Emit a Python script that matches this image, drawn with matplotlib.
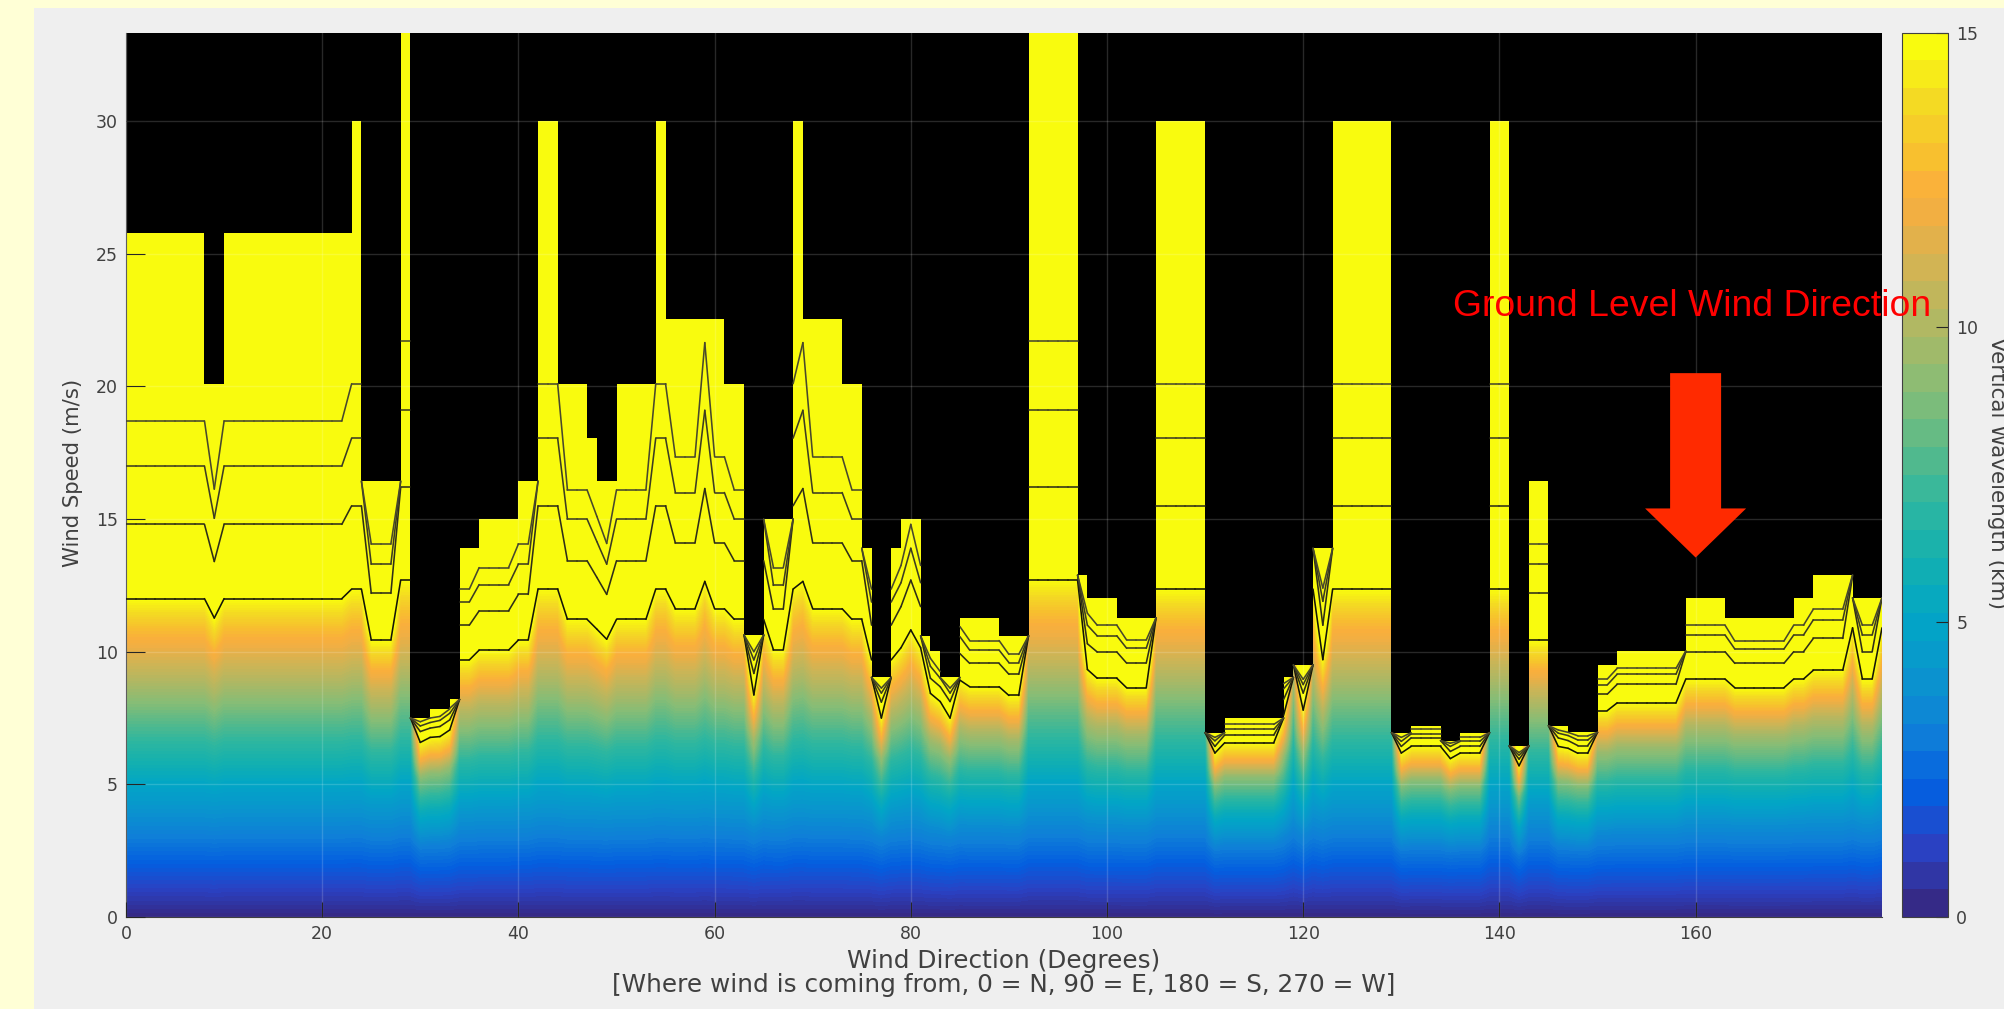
import numpy as np
import matplotlib
matplotlib.use("Agg")
import matplotlib.pyplot as plt
from matplotlib.cm import ScalarMappable
from matplotlib.colors import LinearSegmentedColormap, Normalize
from matplotlib.patches import Rectangle

# wind direction (deg), one value per degree
directions = list(range(180))

# ceiling of the valid region (m/s) for each 1 degree cell, 40 = above the axes
ceiling = [
    25.8, 25.8, 25.8, 25.8, 25.8, 25.8, 25.8, 25.8, 20.1, 20.1,
    25.8, 25.8, 25.8, 25.8, 25.8, 25.8, 25.8, 25.8, 25.8, 25.8,
    25.8, 25.8, 25.8, 30, 16.43, 16.43, 16.43, 16.43, 40, 7.5,
    7.5, 7.84, 7.84, 8.2, 13.9, 13.9, 15, 15, 15, 15,
    16.43, 16.43, 30, 30, 20.1, 20.1, 20.1, 18.06, 16.43, 16.43,
    20.1, 20.1, 20.1, 20.1, 30, 22.55, 22.55, 22.55, 22.55, 22.55,
    22.55, 20.1, 20.1, 10.63, 10.63, 15, 15, 15, 30, 22.55,
    22.55, 22.55, 22.55, 20.1, 20.1, 13.9, 9.03, 9.03, 13.9, 15,
    15, 10.6, 10.03, 9.03, 9.03, 11.28, 11.28, 11.28, 11.28, 10.6,
    10.6, 10.6, 40, 40, 40, 40, 40, 12.89, 12.03, 12.03,
    12.03, 11.28, 11.28, 11.28, 11.28, 30, 30, 30, 30, 30,
    6.95, 6.95, 7.5, 7.5, 7.5, 7.5, 7.5, 7.5, 9.03, 9.5,
    9.5, 13.9, 13.9, 30, 30, 30, 30, 30, 30, 6.95,
    6.95, 7.21, 7.21, 7.21, 6.65, 6.65, 6.95, 6.95, 6.95, 30,
    30, 6.45, 6.45, 16.43, 16.43, 7.21, 7.21, 6.96, 6.96, 6.96,
    9.5, 9.5, 10.03, 10.03, 10.03, 10.03, 10.03, 10.03, 10.03, 12.03,
    12.03, 12.03, 12.03, 11.28, 11.28, 11.28, 11.28, 11.28, 11.28, 11.28,
    12.03, 12.03, 12.89, 12.89, 12.89, 12.89, 12.03, 12.03, 12.03,
]

# contour lines, wind speed (m/s) at each degree. line1 is the 15 km one
line1 = [
    12, 12, 12, 12, 12, 12, 12, 12, 12, 11.27,
    12, 12, 12, 12, 12, 12, 12, 12, 12, 12,
    12, 12, 12, 12.36, 12.36, 10.44, 10.44, 10.44, 12.7, 12.7,
    6.58, 6.77, 6.8, 7.05, 9.69, 9.69, 10.06, 10.06, 10.06, 10.06,
    10.44, 10.44, 12.36, 12.36, 12.36, 11.22, 11.22, 11.22, 10.85, 10.47,
    11.22, 11.22, 11.22, 11.22, 12.36, 12.36, 11.62, 11.62, 11.62, 12.65,
    11.62, 11.62, 11.22, 11.22, 8.37, 11.22, 10.07, 10.07, 12.36, 12.65,
    11.62, 11.62, 11.62, 11.62, 11.22, 11.22, 9.69, 7.5, 9.69, 10.15,
    10.82, 10.15, 8.43, 8.12, 7.5, 8.93, 8.68, 8.68, 8.68, 8.68,
    8.35, 8.35, 12.7, 12.7, 12.7, 12.7, 12.7, 12.7, 9.33, 9.0,
    9.0, 9.0, 8.64, 8.64, 8.64, 12.36, 12.36, 12.36, 12.36, 12.36,
    12.36, 6.18, 6.57, 6.57, 6.57, 6.57, 6.57, 6.57, 7.6, 12.36,
    7.8, 12.36, 9.7, 12.36, 12.36, 12.36, 12.36, 12.36, 12.36, 12.36,
    6.18, 6.43, 6.43, 6.43, 6.43, 5.97, 6.18, 6.18, 6.18, 12.36,
    12.36, 12.36, 5.7, 10.44, 10.44, 10.44, 6.43, 6.36, 6.17, 6.17,
    7.78, 7.78, 8.07, 8.07, 8.07, 8.07, 8.07, 8.07, 8.07, 8.97,
    8.97, 8.97, 8.97, 8.97, 8.64, 8.64, 8.64, 8.64, 8.64, 8.64,
    8.97, 8.97, 9.3, 9.3, 9.3, 9.3, 10.9, 8.97, 8.97, 10.9,
]
line2 = [
    14.8, 14.8, 14.8, 14.8, 14.8, 14.8, 14.8, 14.8, 14.8, 13.4,
    14.8, 14.8, 14.8, 14.8, 14.8, 14.8, 14.8, 14.8, 14.8, 14.8,
    14.8, 14.8, 14.8, 15.5, 15.5, 12.2, 12.2, 12.2, 16.2, 16.2,
    6.99, 7.12, 7.18, 7.43, 11.0, 11.0, 11.54, 11.54, 11.54, 11.54,
    12.16, 12.16, 15.5, 15.5, 15.5, 13.43, 13.43, 13.43, 12.8, 12.16,
    13.43, 13.43, 13.43, 13.43, 15.5, 15.5, 14.1, 14.1, 14.1, 16.15,
    14.1, 14.1, 13.43, 13.43, 9.18, 13.43, 11.6, 11.6, 15.5, 16.15,
    14.1, 14.1, 14.1, 14.1, 13.43, 13.43, 11.0, 8.1, 11.0, 11.7,
    12.7, 11.7, 9.0, 8.68, 8.12, 9.93, 9.56, 9.56, 9.56, 9.56,
    9.15, 9.15, 16.2, 16.2, 16.2, 16.2, 16.2, 16.2, 10.3, 9.99,
    9.99, 9.99, 9.57, 9.57, 9.57, 15.5, 15.5, 15.5, 15.5, 15.5,
    15.5, 6.43, 6.86, 6.86, 6.86, 6.86, 6.86, 6.86, 8.2, 15.5,
    8.44, 15.5, 11.0, 15.5, 15.5, 15.5, 15.5, 15.5, 15.5, 15.5,
    6.43, 6.75, 6.75, 6.75, 6.75, 6.24, 6.43, 6.43, 6.43, 15.5,
    15.5, 15.5, 5.95, 12.2, 12.2, 12.2, 6.75, 6.65, 6.46, 6.46,
    8.4, 8.4, 8.77, 8.77, 8.77, 8.77, 8.77, 8.77, 8.77, 10.0,
    10.0, 10.0, 10.0, 10.0, 9.56, 9.56, 9.56, 9.56, 9.56, 9.56,
    10.0, 10.0, 10.5, 10.5, 10.5, 10.5, 12.85, 10.0, 10.0, 12.85,
]
line3 = [
    17, 17, 17, 17, 17, 17, 17, 17, 17, 15.03,
    17, 17, 17, 17, 17, 17, 17, 17, 17, 17,
    17, 17, 17, 18.05, 18.05, 13.3, 13.3, 13.3, 19.1, 19.1,
    7.2, 7.33, 7.41, 7.68, 11.87, 11.87, 12.53, 12.53, 12.53, 12.53,
    13.3, 13.3, 18.05, 18.05, 18.05, 15, 15, 15, 14.15, 13.3,
    15, 15, 15, 15, 18.05, 18.05, 16, 16, 16, 19.1,
    16, 16, 15, 15, 9.69, 15, 12.5, 12.5, 18.05, 19.1,
    16, 16, 16, 16, 15, 15, 11.87, 8.44, 11.87, 12.6,
    13.9, 12.6, 9.45, 9.0, 8.44, 10.57, 10.06, 10.06, 10.06, 10.06,
    9.59, 9.59, 19.1, 19.1, 19.1, 19.1, 19.1, 19.1, 11.0, 10.6,
    10.6, 10.6, 10.13, 10.13, 10.13, 18.05, 18.05, 18.05, 18.05, 18.05,
    18.05, 6.64, 7.07, 7.07, 7.07, 7.07, 7.07, 7.07, 8.6, 18.05,
    8.76, 18.05, 11.9, 18.05, 18.05, 18.05, 18.05, 18.05, 18.05, 18.05,
    6.62, 6.9, 6.9, 6.9, 6.9, 6.43, 6.62, 6.62, 6.62, 18.05,
    18.05, 18.05, 6.1, 13.3, 13.3, 13.3, 6.93, 6.84, 6.67, 6.67,
    8.75, 8.75, 9.15, 9.15, 9.15, 9.15, 9.15, 9.15, 9.15, 10.63,
    10.63, 10.63, 10.63, 10.63, 10.1, 10.1, 10.1, 10.1, 10.1, 10.1,
    10.63, 10.63, 11.2, 11.2, 11.2, 11.2, 14, 10.63, 10.63, 14,
]
line4 = [
    18.7, 18.7, 18.7, 18.7, 18.7, 18.7, 18.7, 18.7, 18.7, 16.13,
    18.7, 18.7, 18.7, 18.7, 18.7, 18.7, 18.7, 18.7, 18.7, 18.7,
    18.7, 18.7, 18.7, 20.1, 20.1, 14.06, 14.06, 14.06, 21.7, 21.7,
    7.36, 7.5, 7.56, 7.87, 12.36, 12.36, 13.17, 13.17, 13.17, 13.17,
    14.06, 14.06, 20.1, 20.1, 20.1, 16.1, 16.1, 16.1, 15.1, 14.08,
    16.1, 16.1, 16.1, 16.1, 20.1, 20.1, 17.35, 17.35, 17.35, 21.65,
    17.35, 17.35, 16.1, 16.1, 10.0, 16.1, 13.17, 13.17, 20.1, 21.65,
    17.35, 17.35, 17.35, 17.35, 16.1, 16.1, 12.36, 8.63, 12.36, 13.25,
    14.8, 13.25, 9.75, 9.25, 8.63, 10.95, 10.42, 10.42, 10.42, 10.42,
    9.9, 9.9, 21.7, 21.7, 21.7, 21.7, 21.7, 21.7, 11.45, 11.0,
    11.0, 11.0, 10.44, 10.44, 10.44, 20.1, 20.1, 20.1, 20.1, 20.1,
    20.1, 6.77, 7.26, 7.26, 7.26, 7.26, 7.26, 7.26, 8.8, 20.1,
    8.96, 20.1, 12.4, 20.1, 20.1, 20.1, 20.1, 20.1, 20.1, 20.1,
    6.77, 7.07, 7.07, 7.07, 7.07, 6.55, 6.77, 6.77, 6.77, 20.1,
    20.1, 20.1, 6.2, 14.06, 14.06, 14.06, 7.05, 6.96, 6.83, 6.83,
    8.97, 8.97, 9.37, 9.37, 9.37, 9.37, 9.37, 9.37, 9.37, 11.0,
    11.0, 11.0, 11.0, 11.0, 10.4, 10.4, 10.4, 10.4, 10.4, 10.4,
    11.0, 11.0, 11.6, 11.6, 11.6, 11.6, 15, 11.0, 11.0, 15,
]

# wavelength (km) read up a tall column and up a narrow dip,
# against wind speed as a fraction of the speed of line1
speed_frac = [0, 0.2, 0.4, 0.6, 0.8, 0.9, 1.0, 1.5, 3.0]
wave_tall = [0, 2.54, 5.0, 8.0, 11.4, 12.9, 15, 30, 60]
wave_dip = [0, 1.4, 2.8, 5.2, 8.8, 12.3, 15, 30, 60]

# colorbar colours
cbar_values = [0, 1, 2, 3, 4, 5, 6, 7, 8, 9, 10, 11, 12, 12.5, 13, 14, 15]
cbar_colors = ['#352A87', '#2A42C4', '#045FE0', '#0F7FD8', '#0A95CE', '#02A6C6',
               '#13B0B0', '#2EB7A0', '#5CBA88', '#87BD76', '#ACB865', '#CDB556',
               '#F0AF44', '#FAB03C', '#F8BE30', '#F4D924', '#F9FB0E']

W, H = 2004, 1009
LEFT, RIGHT, TOP, BOTTOM = 126, 1882, 32.5, 917
YMAX = 33.34
TEXT = '#404040'

stops = [(v / 15, c) for v, c in zip(cbar_values, cbar_colors)]
field_cmap = LinearSegmentedColormap.from_list('wave', stops, N=96)
bar_cmap = LinearSegmentedColormap.from_list('wave_bar', stops, N=32)

# build the field from the line1 speeds and the two read profiles
speeds = np.arange(0, 33.5, 0.1)
low = np.array(line1)
field = np.zeros((len(speeds), len(low)))
for j, s in enumerate(low):
    w = (12.7 - s) / (12.7 - 5.7)
    frac = speeds / s
    field[:, j] = (1 - w) * np.interp(frac, speed_frac, wave_tall) + w * np.interp(frac, speed_frac, wave_dip)

fig = plt.figure(figsize=(W / 100, H / 100), dpi=100, facecolor='#FFFFD6')
fig.patches.append(Rectangle((34 / W, 0), 1, 1 - 8 / H, transform=fig.transFigure,
                             facecolor='#EFEFEF', edgecolor='none', zorder=-5))

ax = fig.add_axes([LEFT / W, 1 - BOTTOM / H, (RIGHT - LEFT) / W, (BOTTOM - TOP) / H])
ax.imshow(field, origin='lower', aspect='auto', cmap=field_cmap, vmin=0, vmax=15,
          extent=(-0.5, 179.5, -0.05, speeds[-1] + 0.05),
          interpolation='bilinear', interpolation_stage='data', zorder=1)

# black above the ceiling
ax.fill_between(directions, ceiling + [ceiling[-1]], 40, step='post', color='black', lw=0, zorder=2)

# lines are cut at the ceiling of each cell
line_colors = ['#141408', '#2E2E18', '#3C3C22', '#48482C']
for line, col in zip([line1, line2, line3, line4], line_colors):
    for k, top in enumerate(ceiling):
        if line[k] > top and line[k + 1] > top:
            continue
        ax.plot([directions[k], directions[k + 1]], [min(line[k], top), min(line[k + 1], top)],
                color=col, lw=1.15, solid_capstyle='round', zorder=3)

ax.set_xlim(0, 179)
ax.set_ylim(0, YMAX)
ax.set_xticks(range(0, 161, 20))
ax.set_yticks(range(0, 31, 5))
ax.grid(True, color='white', alpha=0.16, lw=1, zorder=4)
ax.set_axisbelow(False)
ax.tick_params(axis='x', direction='in', length=10.8, width=0.8, color='#262626',
               labelcolor=TEXT, labelsize=12.5, pad=6)
ax.tick_params(axis='y', direction='in', length=13.7, width=0.8, color='#262626',
               labelcolor=TEXT, labelsize=12.5, pad=6)
for side in ['left', 'bottom']:
    ax.spines[side].set_color(TEXT)
for side in ['top', 'right']:
    ax.spines[side].set_visible(False)
ax.set_xlabel("Wind Direction (Degrees)\n[Where wind is coming from, 0 = N, 90 = E, 180 = S, 270 = W]",
              fontsize=17.8, color=TEXT, labelpad=4, linespacing=1.0)
ax.set_ylabel("Wind Speed (m/s)", fontsize=15.3, color=TEXT)
ax.yaxis.set_label_coords(-0.0245, 0.502)

# arrow and text for the ground level wind
ax.arrow(160, 20.5, 0, -6.95, width=5.2, head_width=10.3, head_length=1.85,
         length_includes_head=True, fc='#FF2A00', ec='none', zorder=6)
fig.text(1692 / W, 1 - 307 / H, "Ground Level Wind Direction", color='#FF0000',
         family='Liberation Sans', fontsize=26.9, ha='center', va='center', zorder=10)

cax = fig.add_axes([1902 / W, 1 - BOTTOM / H, 46 / W, (BOTTOM - TOP) / H])
cbar = fig.colorbar(ScalarMappable(Normalize(0, 15), bar_cmap), cax=cax, ticks=[0, 5, 10, 15])
cbar.ax.tick_params(direction='in', length=8.6, width=0.8, color='#262626',
                    labelcolor=TEXT, labelsize=12.5, pad=6)
cbar.outline.set_edgecolor(TEXT)
fig.text(1997 / W, 1 - 473 / H, "Vertical Wavelength (km)", rotation=270, fontsize=15.5,
         color=TEXT, ha='center', va='center')

fig.savefig('out.png', dpi=100, facecolor=fig.get_facecolor())
